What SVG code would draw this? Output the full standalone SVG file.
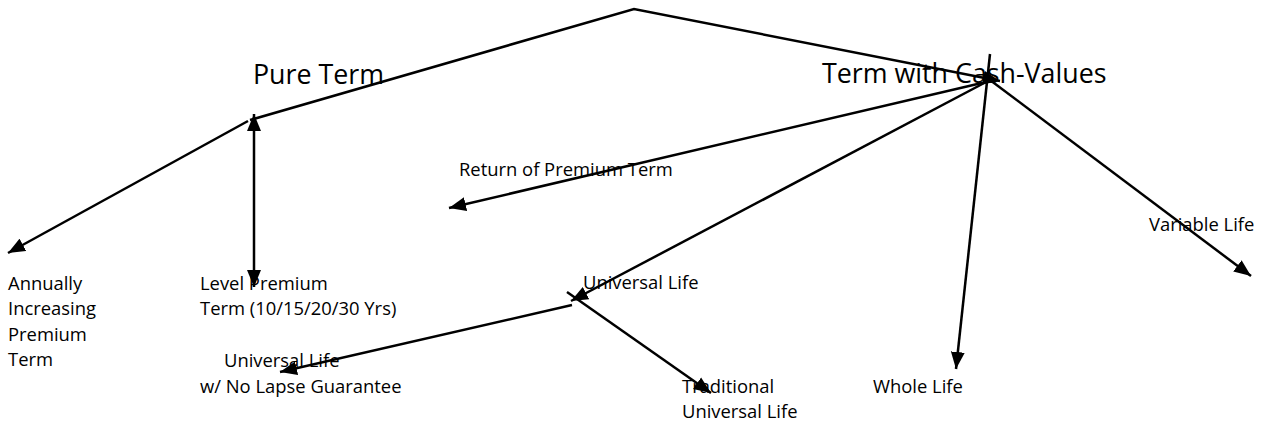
<svg xmlns="http://www.w3.org/2000/svg" width="1264" height="423" viewBox="0 0 1264 423">
<style>
.bg{fill:#ffffff}
.c{stroke:#000;stroke-width:2.5;fill:none}
.s{font-family:"Open Sans","Liberation Sans",sans-serif;font-size:18.4px;fill:#000}
.l{font-family:"Open Sans","Liberation Sans",sans-serif;font-size:26.8px;fill:#000}
</style>
<defs>
<marker id="ah" markerUnits="userSpaceOnUse" markerWidth="18" markerHeight="15" refX="17" refY="7" orient="auto-start-reverse" viewBox="0 0 18 14">
<path d="M0,0 L17,7 L0,14 z" fill="#000"/>
</marker>
</defs>
<rect class="bg" width="1264" height="423"/>
<g id="connectors">
<polyline class="c" points="250,120 634,9 1000,81" marker-end="url(#ah)"/>
<line class="c" x1="248" y1="121" x2="8" y2="253" marker-end="url(#ah)"/>
<line class="c" x1="254" y1="114" x2="254" y2="287" marker-start="url(#ah)" marker-end="url(#ah)"/>
<line class="c" x1="986" y1="82" x2="449" y2="208" marker-end="url(#ah)"/>
<line class="c" x1="988" y1="81" x2="571" y2="301" marker-end="url(#ah)"/>
<line class="c" x1="990" y1="54" x2="956" y2="369" marker-end="url(#ah)"/>
<line class="c" x1="990" y1="80" x2="1251" y2="276" marker-end="url(#ah)"/>
<line class="c" x1="567" y1="292" x2="711" y2="393" marker-end="url(#ah)"/>
<line class="c" x1="572" y1="305" x2="280" y2="372" marker-end="url(#ah)"/>
</g>
<g id="pure-term"><text class="l" x="253" y="84">Pure Term</text></g>
<g id="term-cash-values"><text class="l" x="822" y="83">Term with Cash-Values</text></g>
<g id="return-premium"><text class="s" x="459" y="176">Return of Premium Term</text></g>
<g id="annually"><text class="s" x="8" y="290">Annually</text><text class="s" x="8" y="315">Increasing</text><text class="s" x="8" y="341">Premium</text><text class="s" x="8" y="366">Term</text></g>
<g id="level-premium"><text class="s" x="200" y="290">Level Premium</text><text class="s" x="200" y="315">Term (10/15/20/30 Yrs)</text></g>
<g id="ul-no-lapse"><text class="s" x="224" y="367">Universal Life</text><text class="s" x="200" y="393">w/ No Lapse Guarantee</text></g>
<g id="universal-life"><text class="s" x="583" y="289">Universal Life</text></g>
<g id="traditional-ul"><text class="s" x="682" y="393">Traditional</text><text class="s" x="682" y="418">Universal Life</text></g>
<g id="whole-life"><text class="s" x="873" y="393">Whole Life</text></g>
<g id="variable-life"><text class="s" x="1149" y="231">Variable Life</text></g>
</svg>
